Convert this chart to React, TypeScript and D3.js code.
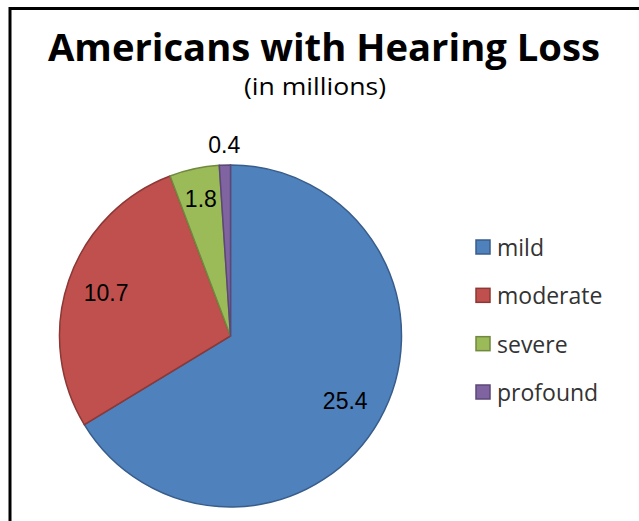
import React from "react";
import * as d3 from "d3";

const categories = ["mild", "moderate", "severe", "profound"];
const values = [25.4, 10.7, 1.8, 0.4];
const valueLabels = ["25.4", "10.7", "1.8", "0.4"];
const fills = ["#4F81BD", "#C0504D", "#9BBB59", "#8064A2"];
const strokes = ["#385D8A", "#8C3836", "#71893F", "#5C4776"];

const W = 639;
const H = 521;

export default function App() {
  const cx = 230.5;
  const cy = 336;
  const r = 171;
  const pie = d3.pie<number>().sort(null).value((d) => d)(values);
  const arc = d3.arc<d3.PieArcDatum<number>>().innerRadius(0).outerRadius(r);
  const labelRadii = [0.77, 0.77, 0.82, 1.12];

  const legendY = d3.scalePoint<string>().domain(categories).range([247, 392]);

  return (
    <svg
      width={W}
      height={H}
      style={{ position: "absolute", left: 0, top: 0, background: "#fff" }}
    >
      <rect x={0} y={0} width={W} height={H} fill="#fff" />
      <rect x={10} y={8.5} width={W + 20} height={H + 20} fill="none" stroke="#000" strokeWidth={3} />
      <text
        x={324}
        y={61}
        textAnchor="middle"
        fontFamily="'Open Sans', Lato, sans-serif"
        fontWeight="bold"
        fontSize={38}
        textLength={552}
        lengthAdjust="spacingAndGlyphs"
        fill="#000"
      >
        Americans with Hearing Loss
      </text>
      <text
        x={315}
        y={95}
        textAnchor="middle"
        fontFamily="'Open Sans', Lato, sans-serif"
        fontSize={23}
        textLength={142}
        lengthAdjust="spacingAndGlyphs"
        fill="#000"
      >
        (in millions)
      </text>
      <g transform={`translate(${cx},${cy})`}>
        {pie.map((p, i) => (
          <path key={i} d={arc(p) || ""} fill={fills[i]} stroke={strokes[i]} strokeWidth={1.5} />
        ))}
        {pie.map((p, i) => {
          const a = (p.startAngle + p.endAngle) / 2;
          const rr = r * labelRadii[i];
          return (
            <text
              key={"l" + i}
              x={Math.sin(a) * rr}
              y={-Math.cos(a) * rr}
              textAnchor="middle"
              dominantBaseline="central"
              fontFamily="'Liberation Sans', 'Open Sans', sans-serif"
              fontSize={23}
              fill="#000"
            >
              {valueLabels[i]}
            </text>
          );
        })}
      </g>
      {categories.map((c, i) => (
        <g key={c} transform={`translate(0,${legendY(c)})`}>
          <rect x={476} y={-7} width={14} height={14} fill={fills[i]} stroke={strokes[i]} strokeWidth={1.5} />
          <text
            x={497}
            y={0}
            dominantBaseline="central"
            fontFamily="'Open Sans', Lato, sans-serif"
            fontSize={23}
            fill="#333"
          >
            {c}
          </text>
        </g>
      ))}
    </svg>
  );
}
